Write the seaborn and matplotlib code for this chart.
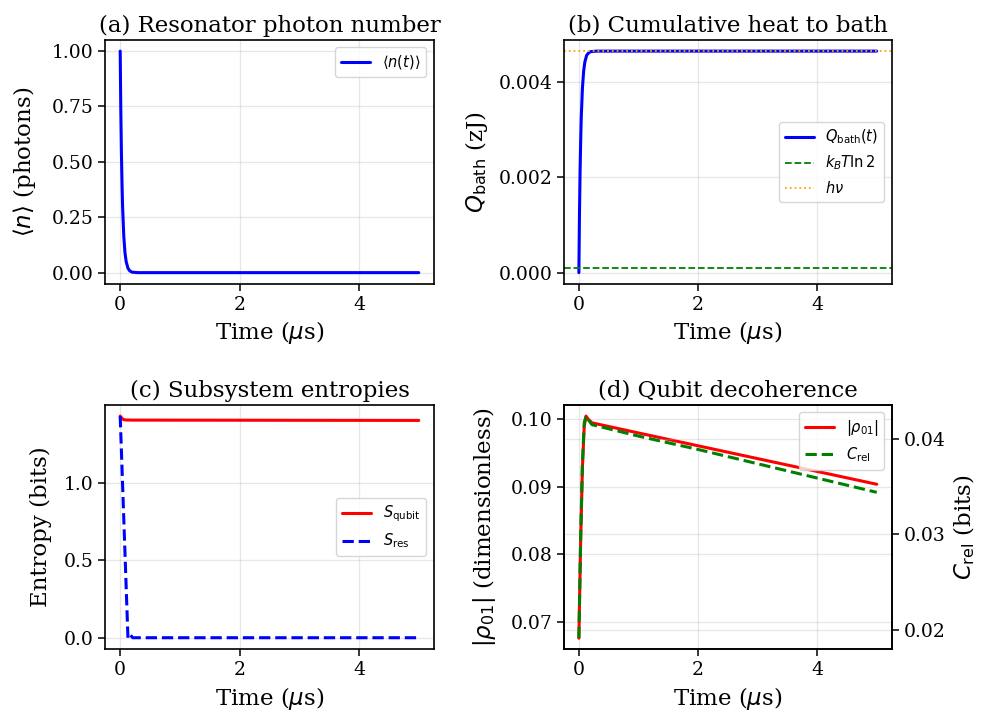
import numpy as np
import pandas as pd
import seaborn as sns
import matplotlib
matplotlib.use("Agg")
from matplotlib import pyplot as plt

# values (time in microseconds)
n_time = [0.0, 0.01, 0.02, 0.03, 0.04, 0.06, 0.08, 0.10, 0.13, 0.16, 0.20, 0.30, 5.0]
n_photons = [1.0, 0.74, 0.55, 0.41, 0.30, 0.165, 0.09, 0.05, 0.02, 0.008, 0.002, 0.0, 0.0]

q_time = [0.0, 0.01, 0.02, 0.03, 0.04, 0.06, 0.08, 0.10, 0.13, 0.16, 0.20, 0.30, 5.0]
q_bath = [0.0, 0.00121, 0.00209, 0.00274, 0.00325, 0.00387, 0.00422, 0.00441, 0.00455, 0.00460, 0.00463, 0.00464, 0.00464]
h_nu = 0.00464
kT_ln2 = 0.0000957

s_qubit_time = [0.0, 0.03, 0.06, 0.10, 0.20, 5.0]
s_qubit = [1.43, 1.415, 1.407, 1.405, 1.404, 1.402]
s_res_time = [0.0, 0.13, 0.17, 0.21, 5.0]
s_res = [1.43, -0.003, 0.018, 0.0, 0.0]

d_time = [0.0, 0.03, 0.06, 0.09, 0.12, 0.16, 0.22, 1.0, 2.0, 3.0, 4.0, 5.0]
rho01 = [0.0676, 0.082, 0.093, 0.099, 0.1005, 0.1000, 0.0995, 0.0980, 0.0961, 0.0942, 0.0923, 0.0904]
c_rel = [0.0191, 0.0297, 0.0375, 0.0417, 0.0424, 0.0420, 0.0415, 0.0403, 0.0389, 0.0374, 0.0359, 0.0344]

sns.set_style("ticks")
plt.rcParams["font.family"] = ["DejaVu Serif"]
plt.rcParams["mathtext.fontset"] = "dejavusans"
plt.rcParams["text.color"] = "black"
plt.rcParams["axes.labelcolor"] = "black"
plt.rcParams["axes.edgecolor"] = "black"
plt.rcParams["axes.linewidth"] = 1.2
plt.rcParams["xtick.color"] = "black"
plt.rcParams["ytick.color"] = "black"
plt.rcParams["xtick.major.width"] = 1.1
plt.rcParams["ytick.major.width"] = 1.1
plt.rcParams["xtick.major.size"] = 5
plt.rcParams["ytick.major.size"] = 5

TICK = 13.5
LABEL = 16.5
TITLE = 16.5
LEG = 10.5

fig = plt.figure(figsize=(9.81, 7.15), dpi=100)
ax_a = fig.add_axes([0.1073, 0.6032, 0.3348, 0.3408])
ax_b = fig.add_axes([0.5749, 0.6032, 0.3340, 0.3408])
ax_c = fig.add_axes([0.1073, 0.0919, 0.3348, 0.3417])
ax_d = fig.add_axes([0.5749, 0.0919, 0.3340, 0.3417])


def grid_on(ax, axis="both"):
    ax.grid(True, axis=axis, color="#b0b0b0", alpha=0.3, lw=0.9)


# (a) photon number
sns.lineplot(x=n_time, y=n_photons, ax=ax_a, color="blue", lw=2.2,
             label=r"$\langle n(t)\rangle$", sort=False, estimator=None)
ax_a.set_title("(a) Resonator photon number", fontsize=TITLE)
ax_a.set_xlabel(r"Time ($\mu$s)", fontsize=LABEL)
ax_a.set_ylabel(r"$\langle n\rangle$ (photons)", fontsize=LABEL, labelpad=10)
ax_a.set_yticks([0.0, 0.25, 0.5, 0.75, 1.0])
ax_a.legend(loc="upper right", fontsize=LEG)
grid_on(ax_a)

# (b) heat to bath
sns.lineplot(x=q_time, y=q_bath, ax=ax_b, color="blue", lw=2.2,
             label=r"$Q_{\rm bath}(t)$", sort=False, estimator=None)
ax_b.axhline(kT_ln2, color="green", ls="--", lw=1.3, label=r"$k_B T \ln 2$")
ax_b.axhline(h_nu, color="orange", ls=":", lw=1.3, label=r"$h\nu$")
ax_b.set_title("(b) Cumulative heat to bath", fontsize=TITLE)
ax_b.set_xlabel(r"Time ($\mu$s)", fontsize=LABEL)
ax_b.set_ylabel(r"$Q_{\rm bath}$ (zJ)", fontsize=LABEL, labelpad=6)
ax_b.set_yticks([0.0, 0.002, 0.004])
ax_b.legend(loc="center right", fontsize=LEG)
grid_on(ax_b)

# (c) entropies
sns.lineplot(x=s_qubit_time, y=s_qubit, ax=ax_c, color="red", lw=2.2,
             label=r"$S_{\rm qubit}$", sort=False, estimator=None)
sns.lineplot(x=s_res_time, y=s_res, ax=ax_c, color="blue", lw=2.2,
             label=r"$S_{\rm res}$", sort=False, estimator=None)
ax_c.lines[1].set_linestyle("--")
ax_c.set_title("(c) Subsystem entropies", fontsize=TITLE)
ax_c.set_xlabel(r"Time ($\mu$s)", fontsize=LABEL)
ax_c.set_ylabel("Entropy (bits)", fontsize=LABEL, labelpad=8)
ax_c.set_yticks([0.0, 0.5, 1.0])
ax_c.legend(loc="center right", fontsize=LEG)
grid_on(ax_c)

# (d) decoherence with twin axis
ax_d2 = ax_d.twinx()
sns.lineplot(x=d_time, y=rho01, ax=ax_d, color="red", lw=2.2,
             label=r"$|\rho_{01}|$", sort=False, estimator=None, legend=False)
sns.lineplot(x=d_time, y=c_rel, ax=ax_d2, color="green", lw=2.2,
             label=r"$C_{\rm rel}$", sort=False, estimator=None, legend=False)
ax_d2.lines[0].set_linestyle("--")
ax_d.set_title("(d) Qubit decoherence", fontsize=TITLE)
ax_d.set_xlabel(r"Time ($\mu$s)", fontsize=LABEL)
ax_d.set_ylabel(r"$|\rho_{01}|$ (dimensionless)", fontsize=LABEL, labelpad=9)
ax_d2.set_ylabel(r"$C_{\rm rel}$ (bits)", fontsize=LABEL)
ax_d.set_yticks([0.07, 0.08, 0.09, 0.10])
ax_d2.set_yticks([0.02, 0.03, 0.04])
h1, l1 = ax_d.get_legend_handles_labels()
h2, l2 = ax_d2.get_legend_handles_labels()
ax_d2.legend(h1 + h2, l1 + l2, loc="upper right", fontsize=LEG)
grid_on(ax_d)
grid_on(ax_d2, axis="y")
ax_d2.tick_params(labelsize=TICK)

for ax in [ax_a, ax_b, ax_c, ax_d]:
    ax.set_xticks([0, 2, 4])
    ax.tick_params(labelsize=TICK)
    for s in ax.spines.values():
        s.set_visible(True)

fig.savefig("out.png", dpi=100)
